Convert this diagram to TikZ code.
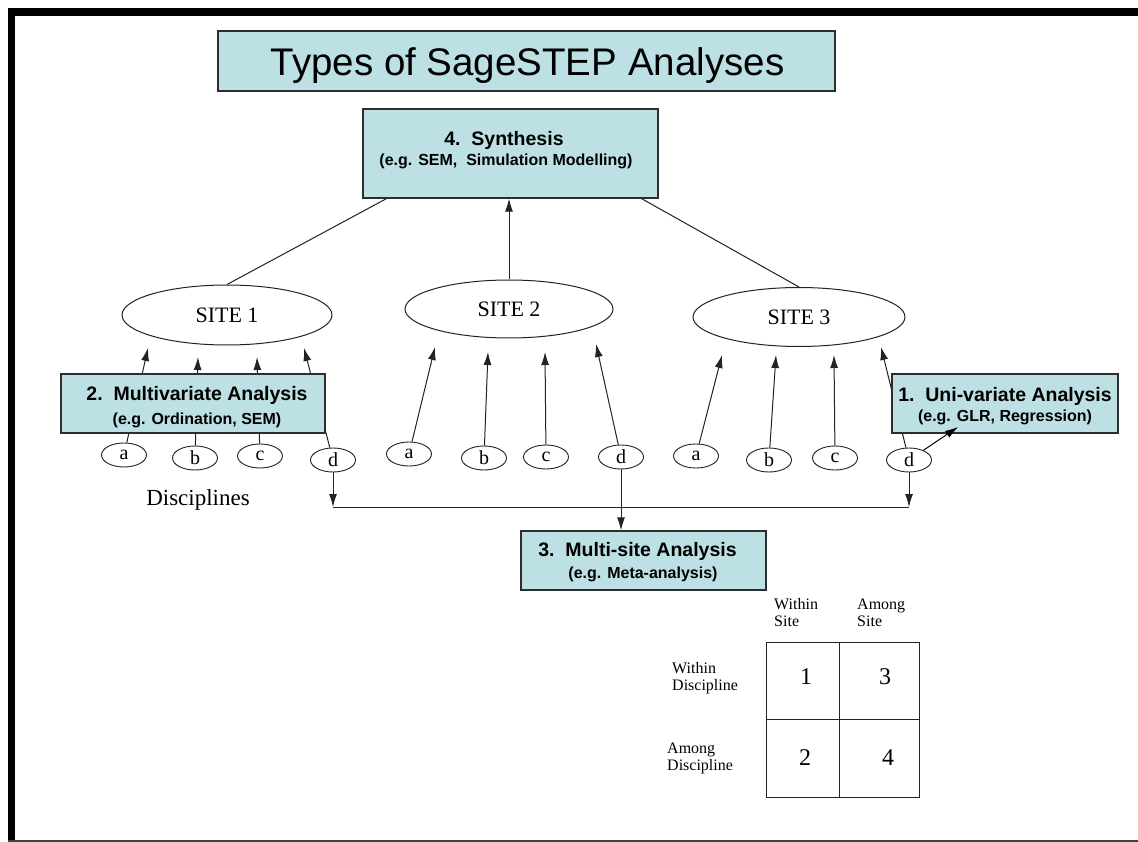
\documentclass[tikz,border=0pt]{standalone}
\usepackage{fontspec}
\setmainfont{Liberation Serif}
\newfontfamily\arial{Liberation Sans}
\usetikzlibrary{shapes.geometric,arrows.meta}
\definecolor{boxfill}{RGB}{188,224,228}
\definecolor{boxline}{RGB}{45,45,45}
\definecolor{ink}{RGB}{35,35,35}
\pgfdeclarelayer{back}
\pgfdeclarelayer{bg}
\pgfsetlayers{back,bg,main}
\begin{document}
\begin{tikzpicture}[x=1pt,y=-1pt,
  cbox/.style={draw=boxline, line width=1.3pt, fill=boxfill, inner sep=0pt},
  site/.style={ellipse, draw=ink, line width=1pt, inner sep=0pt, font=\fontsize{22}{24}\selectfont},
  disc/.style={ellipse, draw=ink, line width=0.9pt, minimum width=45pt, minimum height=24pt, inner sep=0pt, font=\fontsize{20}{22}\selectfont},
  arr/.style={draw=ink, line width=1pt, -{Latex[length=13pt,width=8pt]}},
  plain/.style={draw=ink, line width=1pt},
  hd/.style={font=\arial\bfseries\fontsize{19.5}{22}\selectfont, anchor=base, inner sep=0pt},
  sub/.style={font=\arial\bfseries\fontsize{16}{18}\selectfont, anchor=base, inner sep=0pt},
  lab/.style={font=\fontsize{16}{17}\selectfont, align=left, anchor=west, inner sep=0pt},
  num/.style={font=\fontsize{24}{26}\selectfont, inner sep=0pt}
]
\path[use as bounding box] (0,0) rectangle (1138,842);
\begin{pgfonlayer}{back}
\fill[white] (0,0) rectangle (1138,842);
\fill[black] (8,8) rectangle (1138,16);
\fill[black] (8,8) rectangle (15,842);
\fill[black!75] (8,839.5) rectangle (1138,842);
\end{pgfonlayer}

% boxes
\node[cbox, minimum width=617pt, minimum height=60pt] (title) at (526.5,61) {};
\node[font=\arial\fontsize{38.5}{40}\selectfont, anchor=base, inner sep=0pt] (titletext) at (527.5,76) {Types of SageSTEP Analyses};

\node[cbox, minimum width=295pt, minimum height=89pt] (syn) at (510.5,153.5) {};
\node[hd] (synA) at (504,146) {4.\ \ Synthesis};
\node[sub] (synB) at (506,166) {(e.g. SEM,\ \ Simulation Modelling)};

\node[cbox, minimum width=264pt, minimum height=59pt] (mv) at (193,403.5) {};
\node[hd] (mvA) at (197,400) {2.\ \ Multivariate Analysis};
\node[sub] (mvB) at (197,424) {(e.g. Ordination, SEM)};

\node[cbox, minimum width=226pt, minimum height=59pt] (uv) at (1005,403.5) {};
\node[hd] (uvA) at (1005,401.5) {1.\ \ Uni-variate Analysis};
\node[sub] (uvB) at (1005,421.5) {(e.g. GLR, Regression)};

\node[cbox, minimum width=245pt, minimum height=59pt] (ms) at (643.5,560.5) {};
\node[hd] (msA) at (637.5,556) {3.\ \ Multi-site Analysis};
\node[sub] (msB) at (643,578) {(e.g. Meta-analysis)};

% sites
\node[site, minimum width=210pt, minimum height=60pt] (s1) at (227,315) {SITE 1};
\node[site, minimum width=208pt, minimum height=58pt] (s2) at (509,309) {SITE 2};
\node[site, minimum width=212pt, minimum height=59pt] (s3) at (799,317) {SITE 3};

% disciplines
\node[disc] (a1) at (124,455) {a};
\node[disc] (b1) at (195,458) {b};
\node[disc] (c1) at (260,456) {c};
\node[disc] (d1) at (333,460) {d};
\node[disc] (a2) at (409,454) {a};
\node[disc] (b2) at (484,458) {b};
\node[disc] (c2) at (546,457) {c};
\node[disc] (d2) at (621,457) {d};
\node[disc] (a3) at (696,456) {a};
\node[disc] (b3) at (769,460) {b};
\node[disc] (c3) at (835,458) {c};
\node[disc] (d3) at (909,460) {d};

\node[font=\fontsize{23}{25}\selectfont, inner sep=0pt] (dl) at (198,500) {Disciplines};

% arrow tip coordinates
\coordinate (t1a) at (148,348);
\coordinate (t1b) at (198,357);
\coordinate (t1c) at (257,357);
\coordinate (t1d) at (304,348);
\coordinate (t2a) at (435,347);
\coordinate (t2b) at (488,352);
\coordinate (t2c) at (545,352);
\coordinate (t2d) at (596,344);
\coordinate (t3a) at (722,355);
\coordinate (t3b) at (776,355);
\coordinate (t3c) at (834,355);
\coordinate (t3d) at (881,347);
\coordinate (busL) at (333,507);
\coordinate (busR) at (909,507);
\coordinate (tu) at (958,427);

\begin{pgfonlayer}{bg}
\draw[plain] (syn.200) -- (s1.north);
\draw[plain] (syn.-19) -- (s3.north);
\draw[arr] (s2.north) -- (s2.north |- syn.south);
\foreach \s in {1,2,3}{
  \foreach \d in {a,b,c,d}{
    \draw[arr] (\d\s) -- (t\s\d);
  }
}
\draw[plain] (busL) -- (busR);
\draw[arr] (d1) -- (busL);
\draw[arr] (d3) -- (busR);
\draw[arr] (d2) -- (d2 |- ms.north);
\end{pgfonlayer}

\draw[arr, draw=black] (d3) -- (tu);

% matrix
\draw[ink, line width=1pt] (766,642) rectangle (919,797);
\draw[ink, line width=1pt] (839,642) -- (839,797);
\draw[ink, line width=1pt] (766,719) -- (919,719);
\node[num] (m1) at (806,677) {1};
\node[num] (m3) at (885,677) {3};
\node[num] (m2) at (805,758) {2};
\node[num] (m4) at (888,758) {4};
\node[lab] (ws) at (774,612.5) {Within\\Site};
\node[lab] (as) at (857,612.5) {Among\\Site};
\node[lab] (wd) at (672,678) {Within\\Discipline};
\node[lab] (ad) at (667,758.5) {Among\\Discipline};
\end{tikzpicture}
\end{document}
